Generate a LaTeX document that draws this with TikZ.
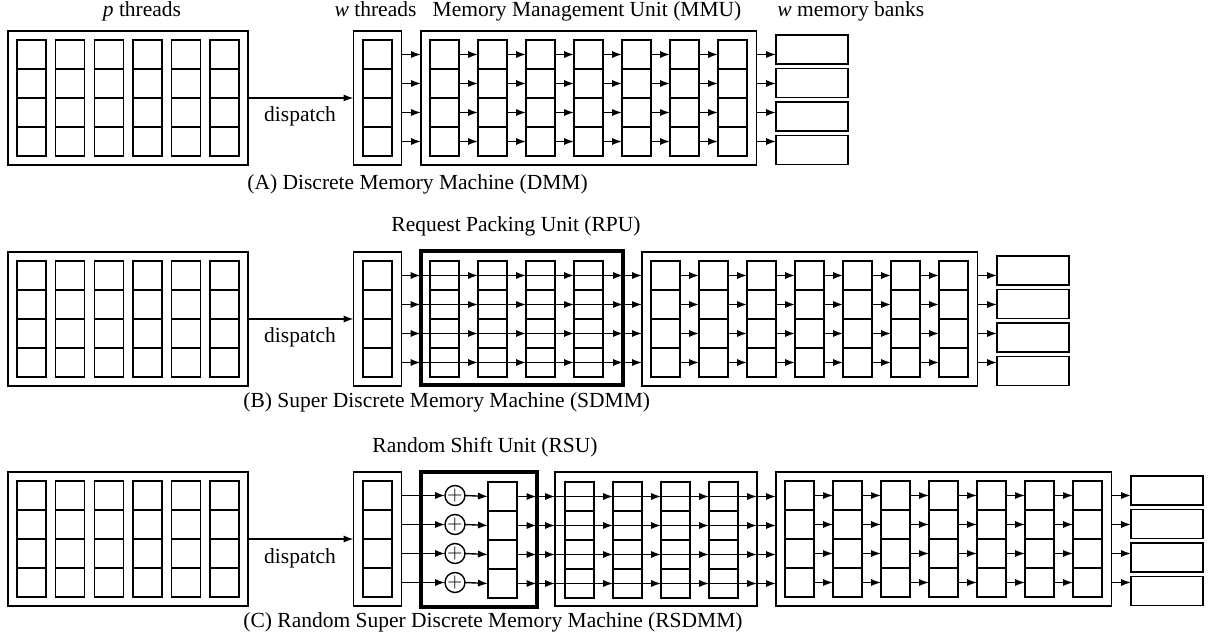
\documentclass[tikz,border=0pt]{standalone}
\usepackage{fontspec}
\setmainfont{Liberation Serif}
\usetikzlibrary{arrows.meta,fit,calc}
\newcommand\mkcol[3]{\foreach \rr in {0,...,3}{\node[cellbox] (#1-\rr) at ({#2+14.5},{#3+14.5+29*\rr}) {};}}
\begin{document}
\begin{tikzpicture}[x=0.5pt,y=-0.5pt,
  cellbox/.style={draw,line width=0.7pt,minimum width=14.5pt,minimum height=14.5pt,inner sep=0pt,outer sep=0pt},
  bankbox/.style={draw,line width=0.7pt,minimum width=36pt,minimum height=14.5pt,inner sep=0pt,outer sep=0pt},
  framebox/.style={draw,line width=0.7pt,inner sep=0pt,outer sep=0pt},
  unitbox/.style={draw,line width=2pt,inner sep=0pt,outer sep=0pt},
  addnode/.style={draw,circle,line width=0.7pt,minimum size=10pt,inner sep=0pt,outer sep=0pt},
  arr/.style={-{Latex[length=5pt,width=3.6pt]},line width=0.7pt},
  lbl/.style={font=\fontsize{10.75}{13}\selectfont,inner sep=0pt}]
\useasboundingbox (0,0) rectangle (1214,640);

% thread boxes for all rows
\foreach \R/\dy in {A/0,B/221,C/441}{
  \node[framebox,fit={(8,31+\dy)(248,165+\dy)}] (\R p) {};
  \foreach \k in {0,...,5}{\mkcol{\R p\k}{17+38.6*\k}{40+\dy}}
  \node[framebox,fit={(353.5,31+\dy)(401.5,165+\dy)}] (\R w) {};
  \mkcol{\R wc}{363}{40+\dy}
  \draw[arr] (\R p.east) -- (\R w.west);
  \node[lbl,anchor=base] (\R disp) at (300,122+\dy) {dispatch};
}

% MMUs and memory banks
\foreach \R/\dy/\mx in {A/0/421,B/221/642,C/441/776}{
  \node[framebox,fit={(\mx,31+\dy)(\mx+335.5,165+\dy)}] (\R m) {};
  \foreach \k in {0,...,6}{\mkcol{\R m\k}{\mx+9+48*\k}{40+\dy}}
  \foreach \r in {0,...,3}{
    \node[bankbox] (\R b\r) at (\mx+391,49.5+33.5*\r+\dy) {};
    \draw[arr] (\R m6-\r.east -| \R m.east) -- (\R m6-\r.east -| \R b\r.west);
    \foreach \k [count=\kk from 1] in {0,...,5}{
      \draw[arr] (\R m\k-\r.east) -- (\R m\kk-\r.west);
    }
  }
}

% Row A
\foreach \r in {0,...,3}{
  \draw[arr] (Awc-\r.east -| Aw.east) -- (Awc-\r.east -| Am.west);
}
\node[lbl,anchor=base] (tp) at (142,17) {\textit{p} threads};
\node[lbl,anchor=base] (tw) at (375.5,17) {\textit{w} threads};
\node[lbl,anchor=base] (tmmu) at (587,17) {Memory Management Unit (MMU)};
\node[lbl,anchor=base west] (tbank) at (777,17) {\textit{w} memory banks};
\node[lbl,anchor=base west] (capA) at (247,190) {(A) Discrete Memory Machine (DMM)};

% Row B
\node[unitbox,fit={(420.5,251.5)(623,385.5)}] (Bu) {};
\foreach \k in {0,...,3}{\mkcol{Bu\k}{430+48*\k}{261}}
\foreach \r in {0,...,3}{
  \draw[arr] (Bwc-\r.east -| Bw.east) -- (Bwc-\r.east -| Bu.west);
  \draw[arr] (Bwc-\r.east -| Bu.west) -- (Bu1-\r.west);
  \draw[arr] (Bu1-\r.west) -- (Bu2-\r.west);
  \draw[arr] (Bu2-\r.west) -- (Bu3-\r.west);
  \draw[arr] (Bu3-\r.west) -- (Bu3-\r.west -| Bu.east);
  \draw[arr] (Bu3-\r.west -| Bu.east) -- (Bu3-\r.west -| Bm.west);
}
\node[lbl,anchor=base] (trpu) at (516,232) {Request Packing Unit (RPU)};
\node[lbl,anchor=base west] (capB) at (243,408) {(B) Super Discrete Memory Machine (SDMM)};

% Row C
\node[unitbox,fit={(420.5,472)(536.5,606.5)}] (Cs) {};
\mkcol{Csc}{488}{482}
\node[framebox,fit={(555,472)(757,606)}] (Cu) {};
\foreach \k in {0,...,3}{\mkcol{Cu\k}{565+48*\k}{482}}
\foreach \r in {0,...,3}{
  \node[addnode] (Cx\r) at (455,495.5+29*\r) {\makebox[0pt]{$+$}};
  \draw[arr] (Cwc-\r.east -| Cw.east) -- (Cx\r.west);
  \draw[arr] (Cx\r.east) -- (Csc-\r.west);
  \draw[arr] (Csc-\r.east) -- (Csc-\r.east -| Cs.east);
  \draw[arr] (Csc-\r.east -| Cs.east) -- (Csc-\r.east -| Cu.west);
  \draw[arr] (Csc-\r.east -| Cu.west) -- (Cu1-\r.west);
  \draw[arr] (Cu1-\r.west) -- (Cu2-\r.west);
  \draw[arr] (Cu2-\r.west) -- (Cu3-\r.west);
  \draw[arr] (Cu3-\r.west) -- (Cu3-\r.west -| Cu.east);
  \draw[arr] (Cu3-\r.west -| Cu.east) -- (Cu3-\r.west -| Cm.west);
}
\node[lbl,anchor=base] (trsu) at (485,452) {Random Shift Unit (RSU)};
\node[lbl,anchor=base west] (capC) at (243,627) {(C) Random Super Discrete Memory Machine (RSDMM)};
\end{tikzpicture}
\end{document}
